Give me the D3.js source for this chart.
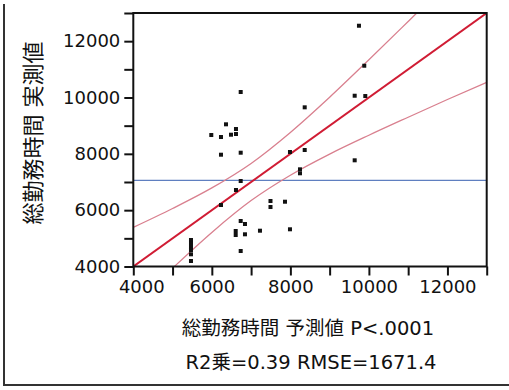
<!DOCTYPE html>
<html>
<head>
<meta charset="utf-8">
<script src="https://cdn.jsdelivr.net/npm/d3@7"></script>
<style>
body { margin:0; background:#fff; }
text { font-family: "DejaVu Sans", Verdana, sans-serif; fill:#111; }
.jp { font-family: "DejaVu Sans", "Noto Sans CJK JP", sans-serif; }
</style>
</head>
<body>
<div id="chart"></div>
<script>
var width = 509;
var height = 390;

var predicted = [6735, 6361, 6615, 5986, 6233, 6488, 6615, 6233, 6735, 6735,
                 6615, 6233, 7494, 7494, 6735, 6844, 6608, 6608, 6844, 7226,
                 6735, 8365, 9638, 9908, 7990, 8365, 9638, 8245, 8245, 7863,
                 7990, 9747, 9882, 5469, 5469, 5469, 5469, 5469, 5469];
var actual    = [10195, 9048, 8881, 8668, 8597, 8679, 8704, 7969, 8040, 7035,
                 6716, 6183, 6325, 6112, 5615, 5509, 5260, 5118, 5143, 5271,
                 4550, 9651, 10063, 10052, 8065, 8136, 7770, 7450, 7309, 6300,
                 5321, 12548, 11128, 4941, 4817, 4692, 4586, 4433, 4195];

// fit line and confidence curves
var fitX = [4000, 13000];
var fitY = [4000, 13000];
var bandX     = [4000, 5000, 6000, 7000, 8000, 9000, 10000, 11000, 12000, 13000];
var bandUpper = [5390, 6060, 6790, 7660, 8760, 10010, 11340, 12700, 14070, 15460];
var bandLower = [2610, 3940, 5210, 6340, 7240, 7990, 8660, 9300, 9930, 10540];
var meanActual = 7060;

var yTickLabels = [4000, 6000, 8000, 10000, 12000];
var xTickLabels = [4000, 6000, 8000, 10000, 12000];
var allTicks = d3.range(4000, 13001, 1000);

var svg = d3.select("#chart").append("svg").attr("width", width).attr("height", height);

var x = d3.scaleLinear().domain([4000, 13000]).range([133.3, 486.7]);
var y = d3.scaleLinear().domain([4000, 13000]).range([266.5, 13]);

svg.append("clipPath").attr("id", "plotclip")
	.append("rect")
		.attr("x", x.range()[0]).attr("y", y.range()[1])
		.attr("width", x.range()[1] - x.range()[0])
		.attr("height", y.range()[0] - y.range()[1]);

var plot = svg.append("g").attr("clip-path", "url(#plotclip)");

// mean line
plot.append("line")
	.attr("x1", x(4000)).attr("x2", x(13000))
	.attr("y1", y(meanActual)).attr("y2", y(meanActual))
	.attr("stroke", "#5f7fc0").attr("stroke-width", 1.3);

// confidence curves
var bandLine = d3.line().curve(d3.curveMonotoneX);
plot.append("path")
	.attr("d", bandLine(bandX.map(function(d, i) { return [x(d), y(bandUpper[i])]; })))
	.attr("fill", "none").attr("stroke", "#d9808f").attr("stroke-width", 1.3);
plot.append("path")
	.attr("d", bandLine(bandX.map(function(d, i) { return [x(d), y(bandLower[i])]; })))
	.attr("fill", "none").attr("stroke", "#d9808f").attr("stroke-width", 1.3);

// fit line
plot.append("line")
	.attr("x1", x(fitX[0])).attr("y1", y(fitY[0]))
	.attr("x2", x(fitX[1])).attr("y2", y(fitY[1]))
	.attr("stroke", "#d01c34").attr("stroke-width", 2);

// points
plot.selectAll("rect.pt")
	.data(predicted)
	.enter().append("rect")
		.attr("class", "pt")
		.attr("x", function(d) { return x(d) - 2; })
		.attr("y", function(d, i) { return y(actual[i]) - 2; })
		.attr("width", 4).attr("height", 4)
		.attr("fill", "#111");

// axes
var yAxis = d3.axisLeft(y).tickValues(allTicks).tickSize(9).tickPadding(4)
	.tickFormat(function(d) { return yTickLabels.indexOf(d) >= 0 ? d : ""; });
var xAxis = d3.axisBottom(x).tickValues(allTicks).tickSize(9).tickPadding(5)
	.tickFormat(function(d) { return xTickLabels.indexOf(d) >= 0 ? d : ""; });

var gy = svg.append("g").attr("transform", "translate(" + x.range()[0] + ",0)").call(yAxis);
var gx = svg.append("g").attr("transform", "translate(0," + y.range()[0] + ")").call(xAxis);

[gx, gy].forEach(function(g) {
	g.select(".domain").remove();
	g.selectAll(".tick line").attr("stroke", "#111").attr("stroke-width", 2);
	g.selectAll(".tick text").style("font-size", "18px").attr("fill", "#111");
});
gx.selectAll(".tick text").filter(function(d) { return d == 4000; }).attr("dx", 8);

// frame
svg.append("rect")
	.attr("x", x.range()[0]).attr("y", y.range()[1])
	.attr("width", x.range()[1] - x.range()[0])
	.attr("height", y.range()[0] - y.range()[1])
	.attr("fill", "none").attr("stroke", "#111").attr("stroke-width", 2);

// titles
svg.append("text")
	.attr("class", "jp")
	.attr("transform", "translate(41,133) rotate(-90)")
	.attr("text-anchor", "middle")
	.style("font-size", "22px")
	.text("総勤務時間 実測値");

svg.append("text")
	.attr("class", "jp")
	.attr("x", 308).attr("y", 335)
	.attr("text-anchor", "middle")
	.style("font-size", "19.5px")
	.text("総勤務時間 予測値 P<.0001");

svg.append("text")
	.attr("class", "jp")
	.attr("x", 311).attr("y", 369)
	.attr("text-anchor", "middle")
	.style("font-size", "19.5px")
	.text("R2乗=0.39 RMSE=1671.4");

// scan frame edges
svg.append("line").attr("x1", 4).attr("x2", 4).attr("y1", 4).attr("y2", 386)
	.attr("stroke", "#333").attr("stroke-width", 2);
svg.append("line").attr("x1", 4).attr("x2", width).attr("y1", 385).attr("y2", 385)
	.attr("stroke", "#333").attr("stroke-width", 2);
</script>
</body>
</html>
